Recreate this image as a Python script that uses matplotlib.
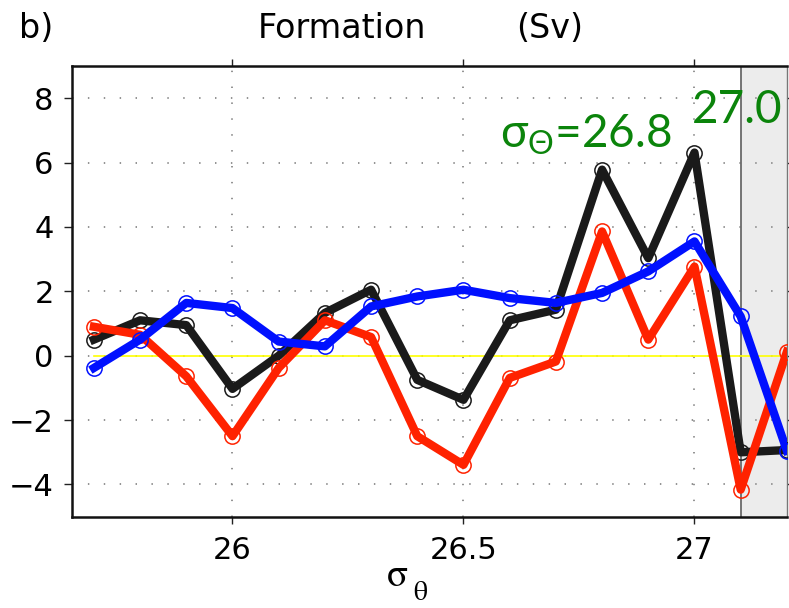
import numpy as np
import matplotlib
matplotlib.use("Agg")
import matplotlib.pyplot as plt

plt.rcParams['font.family'] = ['DejaVu Sans']
plt.rcParams['mathtext.fontset'] = 'custom'
plt.rcParams['mathtext.rm'] = 'Lato'
plt.rcParams['mathtext.it'] = 'Lato:italic'

# density classes (sigma-theta) and formation rates (Sv)
sigma = [25.7, 25.8, 25.9, 26.0, 26.1, 26.2, 26.3, 26.4,
         26.5, 26.6, 26.7, 26.8, 26.9, 27.0, 27.1, 27.2]
total = [0.5, 1.1, 0.95, -1.03, 0.0, 1.33, 2.05, -0.75,
         -1.37, 1.1, 1.43, 5.78, 3.03, 6.31, -3.0, -2.93]
part_a = [0.9, 0.65, -0.64, -2.5, -0.38, 1.1, 0.58, -2.5,
          -3.39, -0.69, -0.18, 3.86, 0.5, 2.77, -4.16, 0.12]
part_b = [-0.38, 0.5, 1.64, 1.48, 0.44, 0.29, 1.53, 1.84,
          2.05, 1.79, 1.64, 1.95, 2.62, 3.55, 1.22, -2.95]

xticks = [26, 26.5, 27]
xticklabels = ['26', '26.5', '27']
yticks = [-4, -2, 0, 2, 4, 6, 8]
yticklabels = ['\u22124', '\u22122', '0', '2', '4', '6', '8']

fig = plt.figure(figsize=(7.89, 6.08), dpi=100)
ax = fig.add_axes([0.0909, 0.1502, 0.9070, 0.7413])

# shaded range beyond 27.1
ax.axvspan(27.1, 27.3, color='#ececec', zorder=1.5, lw=0)
ax.axvline(27.1, color='#6a6a6a', lw=1.3, zorder=1.6)

ax.plot([sigma[0], sigma[-1]], [0, 0], color='#ffff00', lw=1.2, zorder=2)

style = dict(lw=6, marker='o', ms=11, mfc='none', mew=1.1, zorder=3)
ax.plot(sigma, total, color='#1a1a1a', **style)
ax.plot(sigma, part_a, color='#ff2200', **style)
ax.plot(sigma, part_b, color='#0010ff', **style)

ax.set_xlim(25.652, 27.201)
ax.set_ylim(-5, 9)
ax.set_xticks(xticks)
ax.set_xticklabels(xticklabels)
ax.set_yticks(yticks)
ax.set_yticklabels(yticklabels)
ax.grid(True, color='#8a8a8a', linestyle=(0, (0.8, 8)), lw=1.3, zorder=1)

ax.tick_params(axis='x', direction='out', length=5, width=1, top=True,
               labelsize=22, pad=9, colors='#222222', labelcolor='black')
ax.tick_params(axis='y', direction='out', length=6, width=1, right=True,
               labelsize=22, pad=7, colors='#222222', labelcolor='black')
for side in ['left', 'bottom', 'top']:
    ax.spines[side].set_linewidth(1.8)
    ax.spines[side].set_color('#111111')
ax.spines['right'].set_linewidth(1.0)
ax.spines['right'].set_color('#777777')

fig.text(36 / 789, 1 - 38 / 608, 'b)', fontsize=24, ha='center', va='baseline')
fig.text(342 / 789, 1 - 38 / 608, 'Formation', fontsize=24, ha='center', va='baseline')
fig.text(550 / 789, 1 - 38 / 608, '(Sv)', fontsize=24, ha='center', va='baseline')

# x axis label: upright sigma with theta subscript
fig.text(397 / 789, 1 - 586 / 608, 'σ', fontsize=28, family='STIXGeneral',
         ha='center', va='baseline')
fig.text(420 / 789, 1 - 600 / 608, 'θ', fontsize=20, family='STIXGeneral',
         ha='center', va='baseline')

green = '#0b840b'
ax.text(500 / 789, 1 - 148 / 608, 'σ$_\\mathrm{Θ}$=26.8', transform=fig.transFigure,
        fontsize=33, color=green, family=['Lato', 'DejaVu Sans'],
        ha='left', va='baseline', zorder=5)
ax.text(692 / 789, 1 - 123 / 608, '27.0', transform=fig.transFigure,
        fontsize=33, color=green, family=['Lato', 'DejaVu Sans'],
        ha='left', va='baseline', zorder=5, clip_on=False)

fig.savefig('out.png', dpi=100)
